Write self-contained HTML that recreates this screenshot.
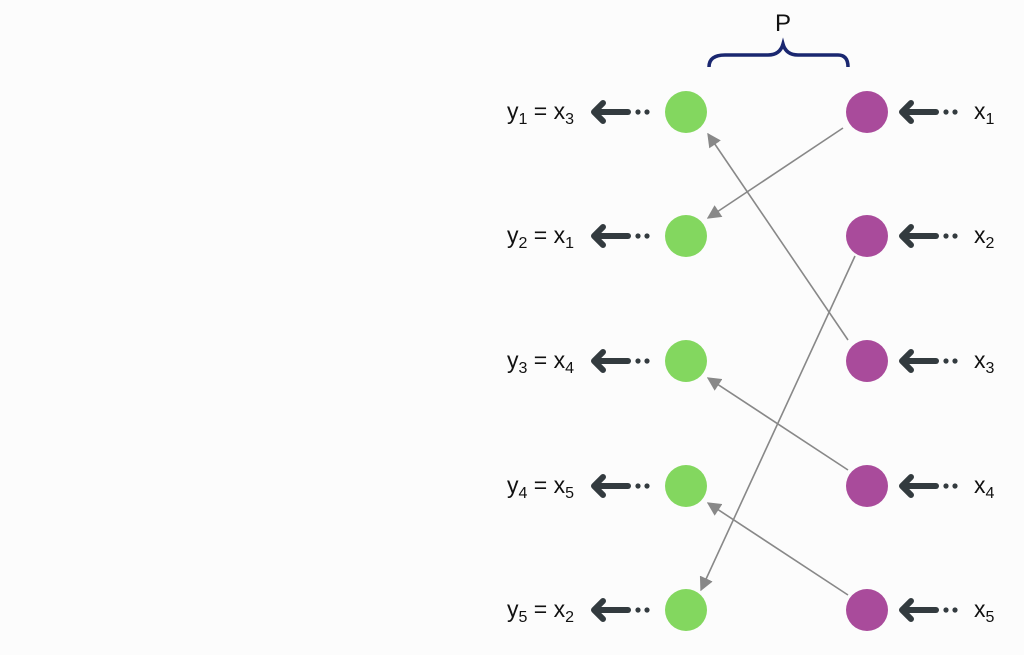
<!DOCTYPE html>
<html><head><style>
body{margin:0;background:#fcfcfc;}
svg{display:block}
text{font-family:"Liberation Sans",sans-serif;fill:#111;}
</style></head><body>
<svg width="1024" height="655" viewBox="0 0 1024 655">
<defs>
<marker id="g" viewBox="0 0 10 10" refX="9" refY="5" markerWidth="14" markerHeight="14" markerUnits="userSpaceOnUse" orient="auto"><path d="M0,0 L10,5 L0,10 Z" fill="#888"/></marker>
<g id="ar">
<path d="M-37,-9 L-46,0 L-37,9" fill="none" stroke="#333b3f" stroke-width="6" stroke-linecap="round" stroke-linejoin="round"/>
<line x1="-45" y1="0" x2="-12" y2="0" stroke="#333b3f" stroke-width="6" stroke-linecap="round"/>
<circle cx="-2" cy="0" r="2.6" fill="#333b3f"/><circle cx="7" cy="0" r="2.6" fill="#333b3f"/>
</g>
</defs>
<text x="775" y="31" font-size="24">P</text>
<path d="M709,67 Q709,55 725,55 L768,55 Q780,55 783,44 Q786,55 798,55 L838,55 Q848,55 848,67" fill="none" stroke="#1a2770" stroke-width="3.5"/>
<g stroke="#888" stroke-width="1.6" marker-end="url(#g)">
<line x1="843" y1="128" x2="708" y2="218"/>
<line x1="848" y1="340" x2="708" y2="134"/>
<line x1="855" y1="256" x2="701" y2="590"/>
<line x1="848" y1="470" x2="708" y2="378"/>
<line x1="848" y1="595" x2="708" y2="503"/>
</g>
<g fill="#83d75f">
<circle cx="686" cy="112" r="21"/><circle cx="686" cy="236" r="21"/><circle cx="686" cy="361" r="21"/><circle cx="686" cy="486" r="21"/><circle cx="686" cy="610" r="21"/>
</g>
<g fill="#a94b9b">
<circle cx="867" cy="112" r="21"/><circle cx="867" cy="236" r="21"/><circle cx="867" cy="361" r="21"/><circle cx="867" cy="486" r="21"/><circle cx="867" cy="610" r="21"/>
</g>
<use href="#ar" x="640" y="112"/><use href="#ar" x="640" y="236"/><use href="#ar" x="640" y="361"/><use href="#ar" x="640" y="486"/><use href="#ar" x="640" y="610"/>
<use href="#ar" x="948" y="112"/><use href="#ar" x="948" y="236"/><use href="#ar" x="948" y="361"/><use href="#ar" x="948" y="486"/><use href="#ar" x="948" y="610"/>
<g font-size="23">
<text x="507" y="119">y<tspan font-size="16" dy="5">1</tspan><tspan dy="-5"> = x</tspan><tspan font-size="16" dy="5">3</tspan></text>
<text x="507" y="243">y<tspan font-size="16" dy="5">2</tspan><tspan dy="-5"> = x</tspan><tspan font-size="16" dy="5">1</tspan></text>
<text x="507" y="368">y<tspan font-size="16" dy="5">3</tspan><tspan dy="-5"> = x</tspan><tspan font-size="16" dy="5">4</tspan></text>
<text x="507" y="493">y<tspan font-size="16" dy="5">4</tspan><tspan dy="-5"> = x</tspan><tspan font-size="16" dy="5">5</tspan></text>
<text x="507" y="617">y<tspan font-size="16" dy="5">5</tspan><tspan dy="-5"> = x</tspan><tspan font-size="16" dy="5">2</tspan></text>
<text x="974" y="119">x<tspan font-size="16" dy="5">1</tspan></text>
<text x="974" y="243">x<tspan font-size="16" dy="5">2</tspan></text>
<text x="974" y="368">x<tspan font-size="16" dy="5">3</tspan></text>
<text x="974" y="493">x<tspan font-size="16" dy="5">4</tspan></text>
<text x="974" y="617">x<tspan font-size="16" dy="5">5</tspan></text>
</g>
</svg>
</body></html>
